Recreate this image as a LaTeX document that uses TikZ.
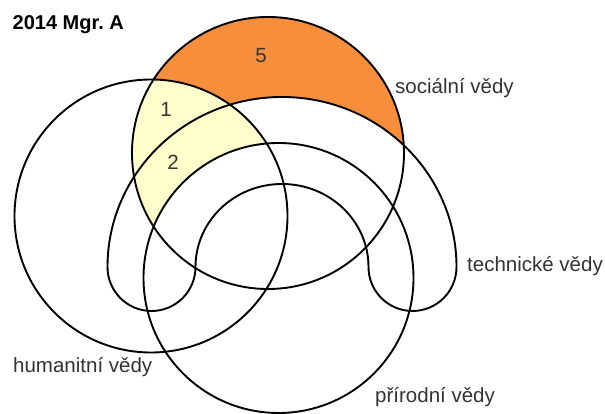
\documentclass[tikz,border=0pt]{standalone}
\usepackage{fontspec}
\setmainfont{Liberation Sans}
\frenchspacing
\definecolor{orangefill}{RGB}{247,142,60}
\definecolor{yellowfill}{RGB}{255,255,204}
\definecolor{labelgray}{RGB}{51,51,51}
\begin{document}
\begin{tikzpicture}[x=1pt,y=1pt,
  spath/.style={insert path={(268,261) circle[radius=136]}},
  hpath/.style={insert path={(151,198) circle[radius=136.5]}},
  ppath/.style={insert path={(278.5,136) circle[radius=135]}},
  toutpath/.style={insert path={(282,147) ellipse[x radius=174.5, y radius=170]}},
  tpath/.style={insert path={(107.5,147) arc[start angle=180, end angle=0, x radius=174.5, y radius=170]
      arc[start angle=0, end angle=-180, radius=44]
      arc[start angle=0, end angle=180, x radius=86.5, y radius=83]
      arc[start angle=0, end angle=-180, radius=44] -- cycle}},
  outline/.style={draw=black, line width=1.9pt},
  lbl/.style={font=\fontsize{20.5}{24}\selectfont, text=labelgray, inner sep=0pt, anchor=base west},
  num/.style={font=\fontsize{20.5}{24}\selectfont, text=labelgray, inner sep=0pt, anchor=base},
]
\useasboundingbox (0,0) rectangle (605,414);
% fills
\begin{scope}
  \clip[spath];
  \fill[orangefill] (0,0) rectangle (605,414);
  \fill[white, hpath];
  \fill[white, toutpath];
  \clip[hpath];
  \fill[yellowfill] (0,0) rectangle (605,414);
  \fill[white, ppath];
\end{scope}
% outlines
\path[outline, hpath];
\path[outline, spath];
\path[outline, ppath];
\path[outline, tpath];
% texts
\node[lbl, font=\fontsize{20}{24}\selectfont\bfseries, text=black] (title) at (12.5,384) {2014 Mgr. A};
\node[lbl] (soc) at (395,320.7) {sociální vědy};
\node[lbl] (tech) at (467,142.3) {technické vědy};
\node[lbl] (prir) at (375,11) {přírodní vědy};
\node[lbl] (hum) at (13,41) {humanitní vědy};
\node[num] (n5) at (261,351.5) {5};
\node[num] (n1) at (166,297) {1};
\node[num] (n2) at (173,244) {2};
\end{tikzpicture}
\end{document}
